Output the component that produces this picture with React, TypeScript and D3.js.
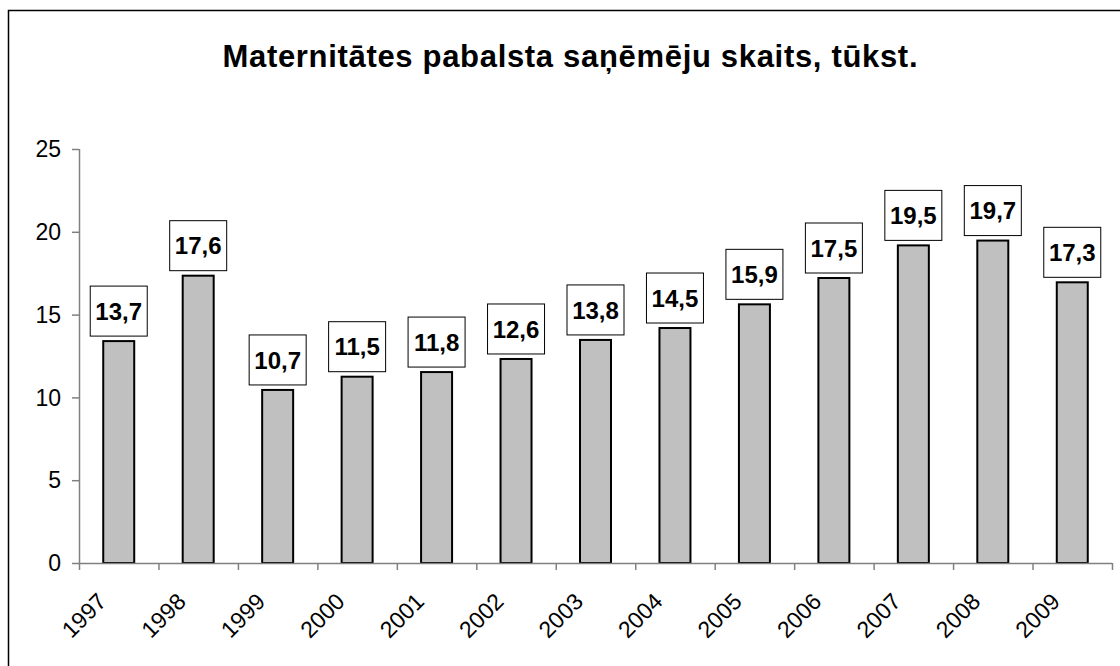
import React from 'react';
import { scaleBand, scaleLinear } from 'd3';

const years = ['1997', '1998', '1999', '2000', '2001', '2002', '2003', '2004', '2005', '2006', '2007', '2008', '2009'];
// bar heights as drawn in the picture
const barValues = [13.4, 17.35, 10.45, 11.25, 11.53, 12.32, 13.47, 14.19, 15.62, 17.21, 19.18, 19.47, 16.95];
// data labels as printed
const labels = ['13,7', '17,6', '10,7', '11,5', '11,8', '12,6', '13,8', '14,5', '15,9', '17,5', '19,5', '19,7', '17,3'];
const yTicks = [0, 5, 10, 15, 20, 25];

const title = 'Maternitātes pabalsta saņēmēju skaits, tūkst.';

const App = () => {
    let svgWidth = 1120;
    let svgHeight = 666;
    let margin = { top: 149, left: 79, right: 1112, bottom: 563 };
    const font = "'Liberation Sans', Arial, sans-serif";

    let x = scaleBand<string>().domain(years).range([margin.left, margin.right]).padding(0);
    let y = scaleLinear().domain([0, 25]).range([margin.bottom, margin.top]);
    let barW = x.bandwidth() * 0.39;
    let boxW = 57;
    let boxH = 50;

    return (
        <svg width={svgWidth} height={svgHeight} style={{ position: 'absolute', left: 0, top: 0, fontFamily: font }}>
            <rect x={8.5} y={10.5} width={1200} height={800} fill='white' stroke='black' strokeWidth={1.5} />
            <text x={570} y={67} textAnchor='middle' fontSize={31} fontWeight='bold' textLength={695} lengthAdjust='spacing'>{title}</text>

            {/* y axis */}
            <line x1={margin.left + 0.5} x2={margin.left + 0.5} y1={y(25)} y2={y(0)} stroke='#808080' strokeWidth={1.5} />
            {yTicks.map(t => (
                <g key={t}>
                    <line x1={margin.left - 7} x2={margin.left} y1={y(t) + 0.5} y2={y(t) + 0.5} stroke='#808080' strokeWidth={1.5} />
                    <text x={61} y={y(t)} dy='0.36em' textAnchor='end' fontSize={23}>{t}</text>
                </g>
            ))}

            {/* bars */}
            {years.map((yr, i) => {
                let cx = x(yr) + x.bandwidth() / 2;
                return <rect key={yr} x={cx - barW / 2} y={y(barValues[i])} width={barW} height={y(0) - y(barValues[i])}
                    fill='#C0C0C0' stroke='black' strokeWidth={2} />;
            })}

            {/* x axis */}
            <line x1={margin.left} x2={margin.right} y1={y(0) + 0.5} y2={y(0) + 0.5} stroke='#808080' strokeWidth={1.5} />
            {years.concat(['end']).map((yr, i) => {
                let tx = i < years.length ? x(yr) : margin.right;
                return <line key={yr} x1={tx + 0.5} x2={tx + 0.5} y1={y(0)} y2={y(0) + 7} stroke='#808080' strokeWidth={1.5} />;
            })}
            {years.map(yr => {
                let ax = x(yr) + x.bandwidth() / 2 - 11;
                let ay = 603;
                return <text key={yr} x={ax} y={ay} textAnchor='end' fontSize={23} transform={`rotate(-45 ${ax} ${ay})`}>{yr}</text>;
            })}

            {/* data labels */}
            {years.map((yr, i) => {
                let cx = x(yr) + x.bandwidth() / 2;
                let by = y(barValues[i]) - 5 - boxH;
                return (
                    <g key={yr}>
                        <rect x={cx - boxW / 2} y={by} width={boxW} height={boxH} fill='white' stroke='black' strokeWidth={1} />
                        <text x={cx} y={by + boxH / 2} dy='0.36em' textAnchor='middle' fontSize={24} fontWeight='bold'>{labels[i]}</text>
                    </g>
                );
            })}
        </svg>
    );
}

export default App;
